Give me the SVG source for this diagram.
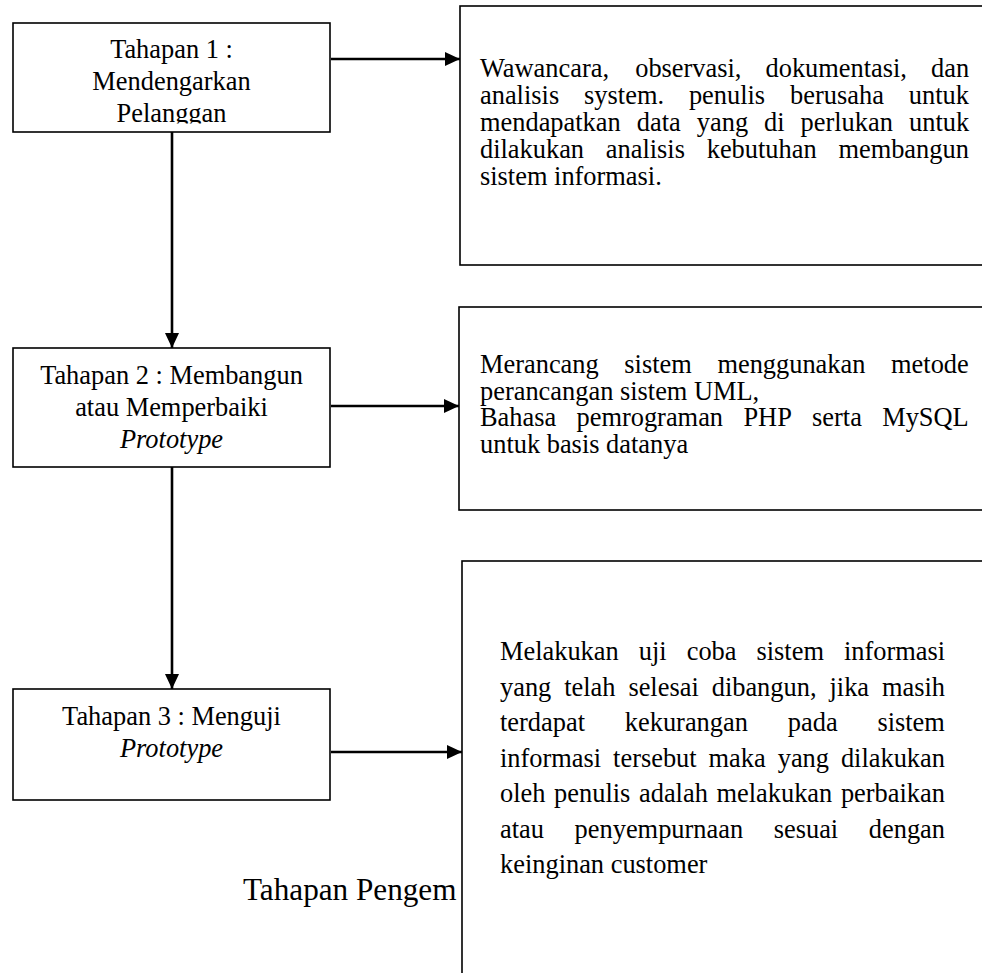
<svg xmlns="http://www.w3.org/2000/svg" width="982" height="973" viewBox="0 0 982 973">
<style>
.bg{fill:#fff}
.box{fill:#fff;stroke:#000;stroke-width:1.6}
.t{font-family:"Liberation Serif","Times New Roman",serif;font-size:26.4px;fill:#000}
.c{text-anchor:middle}
.i{font-style:italic}
.title{font-family:"Liberation Serif","Times New Roman",serif;font-size:31.2px;fill:#000}
.conn{stroke:#000;stroke-width:2.6;fill:none}
</style>
<defs>
<marker id="ah" markerUnits="userSpaceOnUse" markerWidth="16" markerHeight="14" refX="15" refY="7" orient="auto">
<path d="M0,0 L15,7 L0,14 Z" fill="#000"/>
</marker>
<clipPath id="clip1"><rect x="13" y="23" width="317" height="100.5"/></clipPath>
</defs>
<rect class="bg" x="0" y="0" width="982" height="973"/>

<g id="node-tahap1">
<rect class="box" x="13" y="23" width="317" height="109"/>
<g clip-path="url(#clip1)">
<text class="t c" x="171.5" y="58">Tahapan 1 :</text>
<text class="t c" x="171.5" y="90">Mendengarkan</text>
<text class="t c" x="171.5" y="122">Pelanggan</text>
</g>
</g>

<g id="node-desc1">
<rect class="box" x="460" y="6" width="600" height="259"/>
<text class="t" y="77"><tspan x="480">Wawancara,</tspan><tspan x="635.2">observasi,</tspan><tspan x="765.5">dokumentasi,</tspan><tspan x="931">dan</tspan></text>
<text class="t" y="104"><tspan x="480">analisis</tspan><tspan x="584.1">system.</tspan><tspan x="688.9">penulis</tspan><tspan x="790.1">berusaha</tspan><tspan x="908.8">untuk</tspan></text>
<text class="t" y="131"><tspan x="480">mendapatkan</tspan><tspan x="636.8">data</tspan><tspan x="696.8">yang</tspan><tspan x="764.1">di</tspan><tspan x="800.6">perlukan</tspan><tspan x="909">untuk</tspan></text>
<text class="t" y="158"><tspan x="480">dilakukan</tspan><tspan x="605.8">analisis</tspan><tspan x="706.7">kebutuhan</tspan><tspan x="838.4">membangun</tspan></text>
<text class="t" x="480" y="185">sistem informasi.</text>
</g>

<g id="node-tahap2">
<rect class="box" x="13" y="348" width="317" height="119"/>
<text class="t c" x="171.5" y="384">Tahapan 2 : Membangun</text>
<text class="t c" x="171.5" y="416">atau Memperbaiki</text>
<text class="t c i" x="171.5" y="448">Prototype</text>
</g>

<g id="node-desc2">
<rect class="box" x="459" y="307" width="600" height="203"/>
<text class="t" y="373"><tspan x="480">Merancang</tspan><tspan x="624.3">sistem</tspan><tspan x="717.4">menggunakan</tspan><tspan x="891.1">metode</tspan></text>
<text class="t" x="480" y="399.5">perancangan sistem UML,</text>
<text class="t" y="426"><tspan x="480">Bahasa</tspan><tspan x="576.5">pemrograman</tspan><tspan x="743.4">PHP</tspan><tspan x="812.1">serta</tspan><tspan x="882.2">MySQL</tspan></text>
<text class="t" x="480" y="452.5">untuk basis datanya</text>
</g>

<g id="node-tahap3">
<rect class="box" x="13" y="689" width="317" height="111"/>
<text class="t c" x="171.5" y="725">Tahapan 3 : Menguji</text>
<text class="t c i" x="171.5" y="757">Prototype</text>
</g>

<text id="caption" class="title" x="243" y="900">Tahapan Pengem</text>

<g id="node-desc3">
<rect class="box" x="462" y="561" width="600" height="500"/>
<text class="t" y="660"><tspan x="500">Melakukan</tspan><tspan x="638.8">uji</tspan><tspan x="686.7">coba</tspan><tspan x="756.5">sistem</tspan><tspan x="844">informasi</tspan></text>
<text class="t" y="696"><tspan x="500">yang</tspan><tspan x="564.2">telah</tspan><tspan x="628.4">selesai</tspan><tspan x="711.7">dibangun,</tspan><tspan x="829.5">jika</tspan><tspan x="882">masih</tspan></text>
<text class="t" y="731"><tspan x="500">terdapat</tspan><tspan x="624.8">kekurangan</tspan><tspan x="787.8">pada</tspan><tspan x="877.4">sistem</tspan></text>
<text class="t" y="767"><tspan x="500">informasi</tspan><tspan x="613.1">tersebut</tspan><tspan x="708.6">maka</tspan><tspan x="777.7">yang</tspan><tspan x="840.9">dilakukan</tspan></text>
<text class="t" y="802"><tspan x="500">oleh</tspan><tspan x="554.1">penulis</tspan><tspan x="639">adalah</tspan><tspan x="716.5">melakukan</tspan><tspan x="840.9">perbaikan</tspan></text>
<text class="t" y="838"><tspan x="500">atau</tspan><tspan x="574.6">penyempurnaan</tspan><tspan x="773.7">sesuai</tspan><tspan x="868.8">dengan</tspan></text>
<text class="t" x="500" y="873">keinginan customer</text>
</g>

<g id="connectors">
<line class="conn" x1="331" y1="59" x2="460" y2="59" marker-end="url(#ah)"/>
<line class="conn" x1="331" y1="406" x2="459" y2="406" marker-end="url(#ah)"/>
<line class="conn" x1="331" y1="752" x2="462" y2="752" marker-end="url(#ah)"/>
<line class="conn" x1="172" y1="132" x2="172" y2="348" marker-end="url(#ah)"/>
<line class="conn" x1="172" y1="467" x2="172" y2="689" marker-end="url(#ah)"/>
</g>
</svg>
